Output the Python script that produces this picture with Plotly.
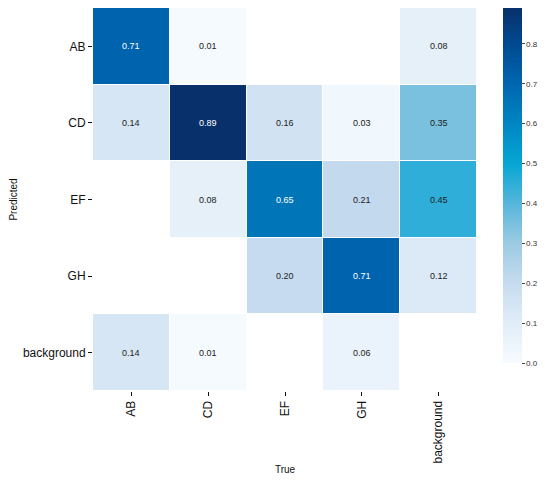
import plotly.graph_objects as go

# confusion matrix, rows = predicted, cols = true (None = empty cell)
labels = ["AB", "CD", "EF", "GH", "background"]
row_ab = [0.71, 0.01, None, None, 0.08]
row_cd = [0.14, 0.89, 0.16, 0.03, 0.35]
row_ef = [None, 0.08, 0.65, 0.21, 0.45]
row_gh = [None, None, 0.20, 0.71, 0.12]
row_bg = [0.14, 0.01, None, 0.06, None]
cbar_ticks = [0.0, 0.1, 0.2, 0.3, 0.4, 0.5, 0.6, 0.7, 0.8]

z = [row_ab, row_cd, row_ef, row_gh, row_bg]
zmax = 0.89

# blue scale with a cyan middle, like the original
stops = [(0.00, "#f7fbff"), (0.10, "#e1edf8"), (0.20, "#c6dbef"),
         (0.30, "#9ccbe3"), (0.40, "#56b6db"), (0.50, "#06a6d4"),
         (0.60, "#0086c2"), (0.70, "#0066b0"), (0.80, "#004a90"),
         (0.89, "#08306b")]
cscale = [[v / zmax, c] for v, c in stops]

fig = go.Figure(go.Heatmap(
    z=z, x=labels, y=labels,
    zmin=0, zmax=zmax,
    colorscale=cscale,
    xgap=1, ygap=1,
    hoverongaps=False,
    colorbar=dict(
        x=1.068, xanchor="left", y=1, yanchor="top",
        xpad=0, ypad=0,
        len=0.927, thickness=19, outlinewidth=0,
        tickvals=cbar_ticks, tickformat=".1f",
        ticks="outside", ticklen=3, tickcolor="#444",
        tickfont=dict(size=8, color="#333"),
    ),
))

# cell labels
for i, row in enumerate(z):
    for j, v in enumerate(row):
        if v is None:
            continue
        fig.add_annotation(
            x=labels[j], y=labels[i], text=f"{v:.2f}", showarrow=False,
            font=dict(size=9, color="white" if v > 0.5 else "#222"),
        )

# page has an 8px body margin, so keep the figure inside the window
fig.update_layout(
    width=534, height=467,
    margin=dict(l=85, r=65, t=0, b=84, autoexpand=False),
    plot_bgcolor="white", paper_bgcolor="white",
    font=dict(family="Liberation Sans, Arial, sans-serif", color="#111"),
)
fig.update_xaxes(
    title=dict(text="True", font=dict(size=10), standoff=8),
    tickangle=-90, tickfont=dict(size=12), automargin=True,
    ticks="outside", ticklen=4, tickcolor="#111",
    showgrid=False, zeroline=False, showline=False,
)
fig.update_yaxes(
    title=dict(text="Predicted", font=dict(size=10), standoff=7),
    autorange="reversed", tickfont=dict(size=12), automargin=True,
    ticks="outside", ticklen=4, tickcolor="#111",
    showgrid=False, zeroline=False, showline=False,
)

fig.write_html("out.html")
